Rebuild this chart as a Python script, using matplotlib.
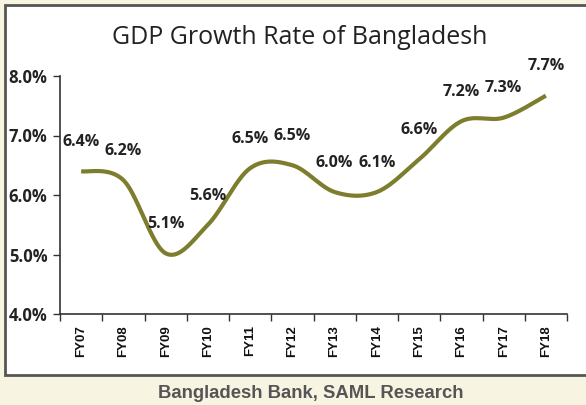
import numpy as np
import matplotlib.pyplot as plt
from matplotlib.patches import Rectangle

years = ['FY07', 'FY08', 'FY09', 'FY10', 'FY11', 'FY12',
         'FY13', 'FY14', 'FY15', 'FY16', 'FY17', 'FY18']
# values the drawn line follows
growth = [6.4, 6.25, 5.02, 5.5, 6.45, 6.5, 6.05, 6.05, 6.6, 7.24, 7.3, 7.67]
# values printed over the line
labels = ['6.4%', '6.2%', '5.1%', '5.6%', '6.5%', '6.5%',
          '6.0%', '6.1%', '6.6%', '7.2%', '7.3%', '7.7%']
yticks = [4.0, 5.0, 6.0, 7.0, 8.0]

olive = '#7d7d2e'
cream = '#f8f4e2'


def smooth(x, y, n=40):
    # excel style smoothed line: cubic bezier with catmull-rom control points
    x = np.asarray(x, float)
    y = np.asarray(y, float)
    px = np.concatenate([[x[0]], x, [x[-1]]])
    py = np.concatenate([[y[0]], y, [y[-1]]])
    xs, ys = [], []
    t = np.linspace(0, 1, n)
    for i in range(1, len(px) - 2):
        p0 = np.array([px[i], py[i]])
        p3 = np.array([px[i + 1], py[i + 1]])
        p1 = p0 + (np.array([px[i + 1], py[i + 1]]) - np.array([px[i - 1], py[i - 1]])) / 6
        p2 = p3 - (np.array([px[i + 2], py[i + 2]]) - np.array([px[i], py[i]])) / 6
        b = ((1 - t) ** 3)[:, None] * p0 + (3 * (1 - t) ** 2 * t)[:, None] * p1 \
            + (3 * (1 - t) * t ** 2)[:, None] * p2 + (t ** 3)[:, None] * p3
        xs.extend(b[:, 0])
        ys.extend(b[:, 1])
    return np.array(xs), np.array(ys)


fig = plt.figure(figsize=(5.86, 4.05), dpi=100)
fig.patch.set_facecolor(cream)

# white panel with border
fig.patches.append(Rectangle((5 / 586, 1 - 375 / 405), 0.995, (375 - 5) / 405,
                             transform=fig.transFigure, facecolor='white',
                             edgecolor='#555555', linewidth=2, zorder=-1))

ax = fig.add_axes([60 / 586, 1 - 314 / 405, (567 - 60) / 586, (314 - 76) / 405])
ax.set_zorder(2)
ax.patch.set_alpha(0)

xpos = np.arange(len(years))
sx, sy = smooth(xpos, growth)
ax.plot(sx, sy, color=olive, linewidth=3, solid_capstyle='butt')

for i, lab in enumerate(labels):
    ax.annotate(lab, (xpos[i], growth[i]), xytext=(0, 21), textcoords='offset points',
                ha='center', va='center', fontsize=11.5, fontweight='bold',
                family='Open Sans', color='#222222', annotation_clip=False)

ax.set_xlim(-0.5, len(years) - 0.5)
ax.set_ylim(4.0, 8.0)
ax.set_yticks(yticks)
ax.set_yticklabels(['%.1f%%' % v for v in yticks], fontsize=12, fontweight='bold',
                   family='Open Sans', color='#222222')
ax.set_xticks(xpos)
ax.set_xticklabels(years, rotation=90, fontsize=9.5, fontweight='bold',
                   family='Liberation Sans', color='#111111')
ax.set_xticks(np.arange(-0.5, len(years)), minor=True)
ax.tick_params(axis='x', which='major', length=0, pad=8)
ax.tick_params(axis='x', which='minor', length=5, width=1, color='#333333')
ax.tick_params(axis='y', length=5, width=1, color='#333333', pad=4)

for s in ['top', 'right']:
    ax.spines[s].set_visible(False)
for s in ['left', 'bottom']:
    ax.spines[s].set_color('#333333')
    ax.spines[s].set_linewidth(1.2)

fig.text(300 / 586, 1 - 38 / 405, 'GDP Growth Rate of Bangladesh', ha='center', va='center',
         fontsize=18, family='Open Sans', color='#222222')
fig.text(311 / 586, 1 - 393 / 405, 'Bangladesh Bank, SAML Research', ha='center',
         va='center', fontsize=13.3, fontweight='bold', family='Liberation Sans',
         color='#555555')

fig.savefig('out.png', dpi=100, facecolor=cream)
